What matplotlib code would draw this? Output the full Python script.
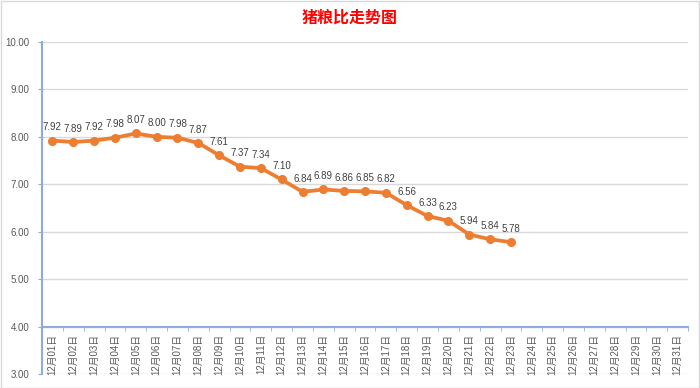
import matplotlib
matplotlib.use('Agg')
import matplotlib.pyplot as plt
from matplotlib.patches import Rectangle
import numpy as np

plt.rcParams['font.family'] = ['Liberation Sans', 'Noto Sans CJK SC', 'DejaVu Sans']

# Data
days = [f"12月{d:02d}日" for d in range(1, 32)]
ratio = [7.92, 7.89, 7.92, 7.98, 8.07, 8.00, 7.98, 7.87, 7.61, 7.37, 7.34, 7.10,
         6.84, 6.89, 6.86, 6.85, 6.82, 6.56, 6.33, 6.23, 5.94, 5.84, 5.78]
y_ticks = [3, 4, 5, 6, 7, 8, 9, 10]

line_color = '#ED7D31'
axis_color = '#8FAADC'
grid_color = '#D9D9D9'
text_color = '#595959'

fig = plt.figure(figsize=(7, 3.88), dpi=100)
ax = fig.add_axes([0.06, 0.036, 0.923, 0.856])

# spine position first (it resets tick settings)
ax.spines['bottom'].set_position(('data', 4))
ax.spines['bottom'].set_color(axis_color)
ax.spines['bottom'].set_linewidth(1.5)
ax.spines['left'].set_color(axis_color)
ax.spines['left'].set_linewidth(1.5)
ax.spines['top'].set_visible(False)
ax.spines['right'].set_visible(False)

x = np.arange(len(ratio))
ax.plot(x, ratio, color=line_color, lw=2.7, marker='o', ms=5.5, zorder=3)
for xi, v in zip(x, ratio):
    ax.annotate(f"{v:.2f}", (xi, v), xytext=(0, 6), textcoords='offset points',
                ha='center', va='bottom', fontsize=7, color='#404040')

ax.set_xlim(-0.5, len(days) - 0.5)
ax.set_ylim(3, 10)
ax.set_yticks(y_ticks)
ax.set_yticklabels([f"{t:.2f}" for t in y_ticks], fontsize=7, color=text_color)
ax.yaxis.grid(True, color=grid_color, lw=1)
ax.set_axisbelow(True)

ax.set_xticks(np.arange(len(days)))
ax.set_xticklabels(days, rotation=90, fontsize=7, color=text_color,
                   family=['Liberation Sans', 'Noto Sans CJK SC'])
ax.set_xticks(np.arange(len(days) + 1) - 0.5, minor=True)
ax.tick_params(axis='x', which='major', length=0, pad=5)
ax.tick_params(axis='x', which='minor', length=3, color=axis_color, direction='out')
ax.tick_params(axis='y', length=3, color=axis_color, pad=6)

fig.text(0.5, 0.955, "猪粮比走势图", ha='center', va='center', fontsize=11.5,
         color='#FF0000', fontweight='bold', family=['Noto Sans CJK SC'])

fig.patches.append(Rectangle((0.001, 0.001), 0.998, 0.997, transform=fig.transFigure,
                             fill=False, edgecolor='#D9D9D9', lw=1))

fig.savefig('out.png', dpi=100)
